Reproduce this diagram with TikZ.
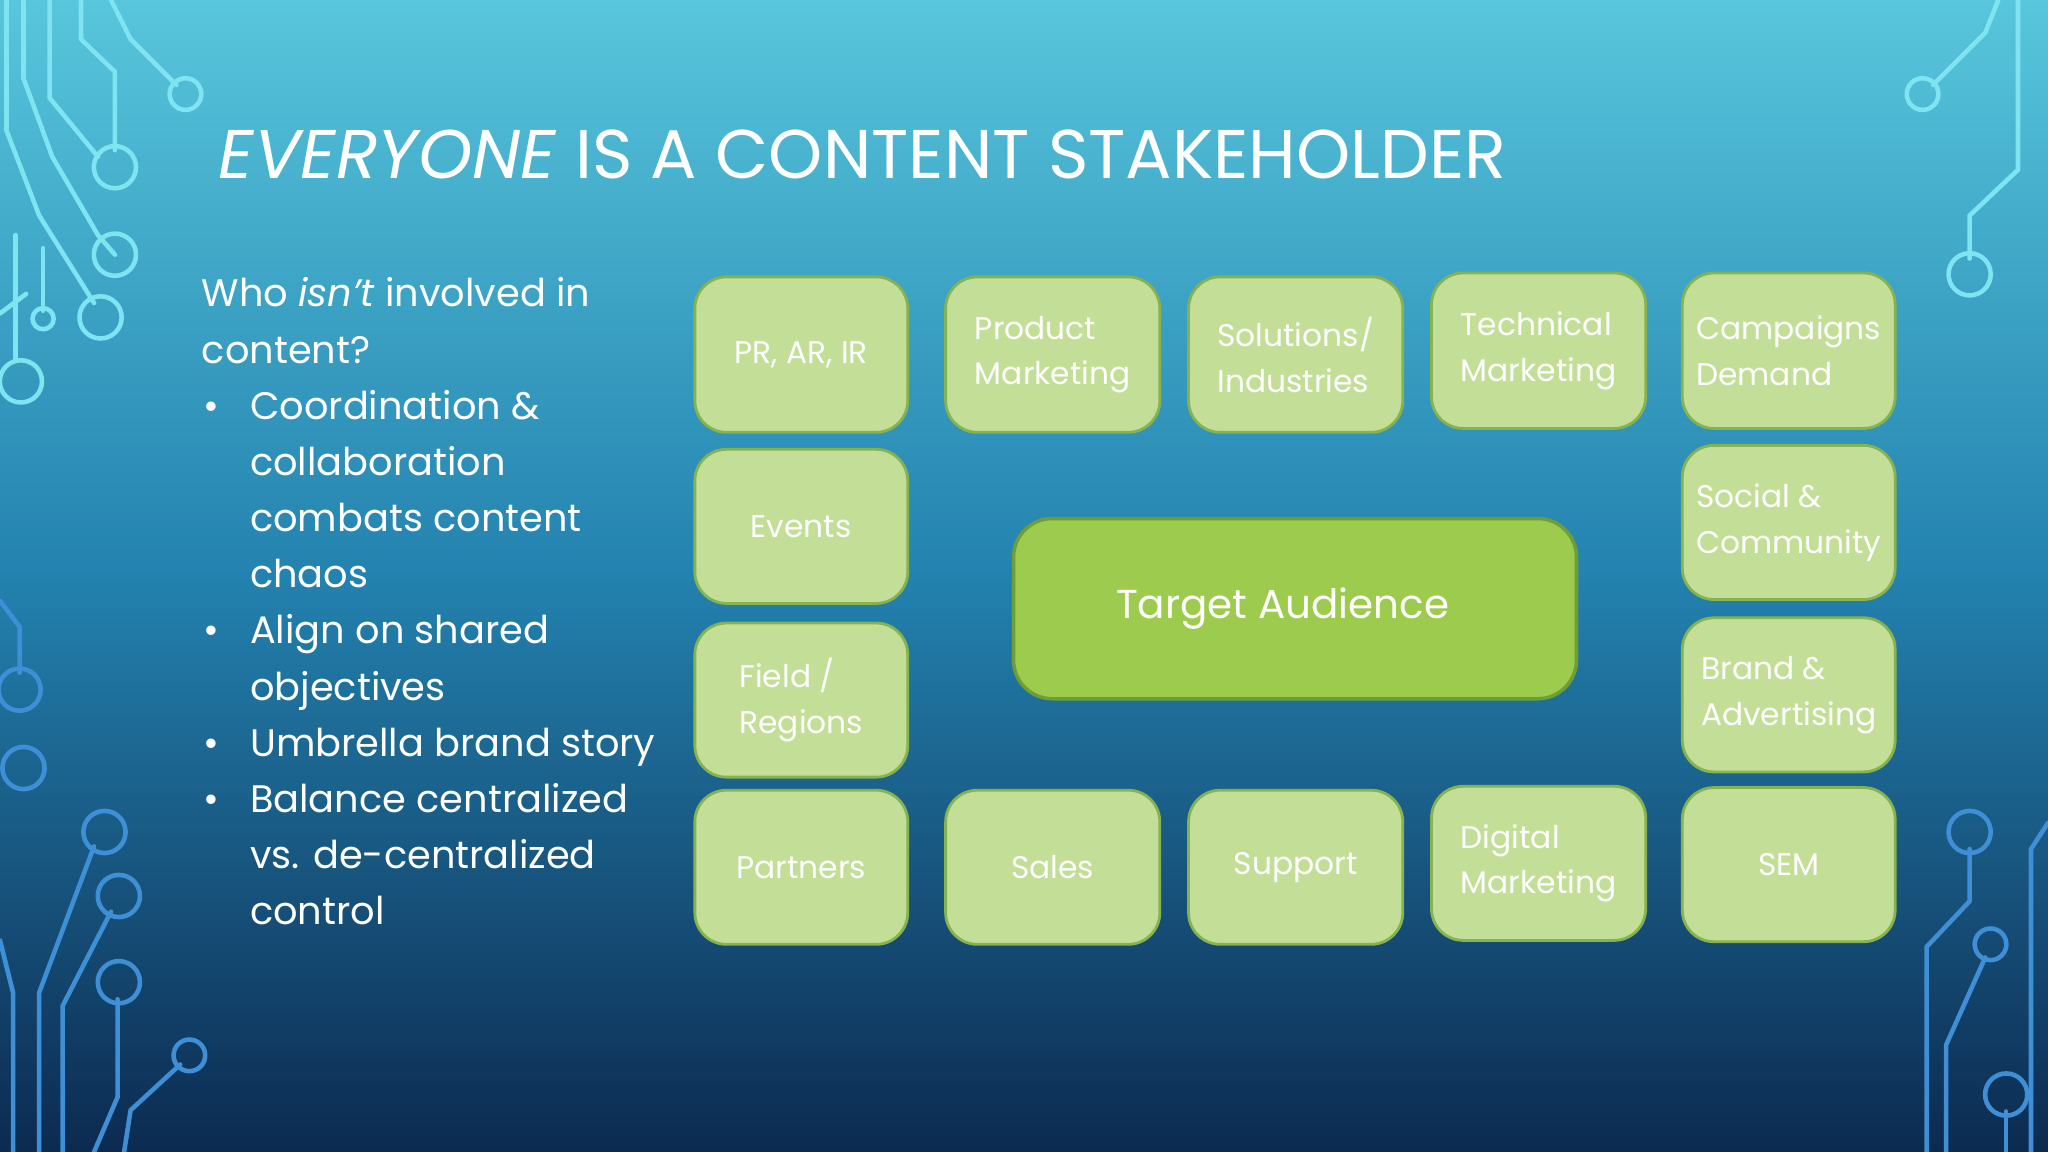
\documentclass[tikz,border=0pt]{standalone}
\usepackage{fontspec}
\setmainfont{Poppins}
\begin{document}
\begin{tikzpicture}[x=0.013061cm,y=-0.013061cm,
  sbox/.style={draw=boxborder,line width=0.8pt,fill=boxfill,rounded corners=9pt},
  tbox/.style={draw=tborder,line width=1pt,fill=tfill,rounded corners=11pt},
  circ/.style={line width=1.3pt,line cap=round},
  dot/.style={circle,draw,line width=1.3pt,inner sep=0pt,minimum size=15pt},
  ltxt/.style={anchor=base west,text=white,font=\fontsize{10.9}{16}\selectfont,inner sep=0pt}]
\definecolor{boxfill}{HTML}{C3DF97}
\definecolor{boxborder}{HTML}{86B34F}
\definecolor{tfill}{HTML}{9CCB4D}
\definecolor{tborder}{HTML}{6F9E35}
\definecolor{ctop}{HTML}{7FE3F0}
\definecolor{cbot}{HTML}{3E8FD6}
\shade[top color={rgb,255:red,88;green,198;blue,220},bottom color={rgb,255:red,12;green,42;blue,80},middle color={rgb,255:red,35;green,130;blue,175}] (0,0) rectangle (1568,882);
\useasboundingbox (0,0) rectangle (1568,882);
% circuits top-left
\begin{scope}[ctop,circ]
\draw (18,0)--(18,60)--(40,120)--(75,180)--(88,195); \node[dot,draw=ctop,minimum size=12pt] (c1) at (88,195) {};
\draw (38,0)--(38,75)--(75,120); \node[dot,draw=ctop,minimum size=12pt] at (88,128) {};
\draw (62,0)--(62,30)--(88,55)--(88,115);
\draw (85,0)--(100,30)--(135,65); \node[dot,draw=ctop,minimum size=9pt] at (142,72) {};
\draw (5,0)--(5,100)--(30,165)--(72,232); \node[dot,draw=ctop,minimum size=12pt] at (77,243) {};
\draw (12,180)--(12,275); \node[dot,draw=ctop,minimum size=12pt] at (16,292) {};
\draw (33,190)--(33,238); \node[dot,draw=ctop,minimum size=6pt] at (33,244) {};
\draw (0,240)--(20,225);
\end{scope}
% top-right
\begin{scope}[ctop,circ]
\draw (1530,0)--(1520,25)--(1480,65); \node[dot,draw=ctop,minimum size=9pt] at (1472,72) {};
\draw (1545,0)--(1545,130)--(1508,165)--(1508,198); \node[dot,draw=ctop,minimum size=12pt] at (1508,210) {};
\end{scope}
% bottom-left
\begin{scope}[cbot,circ]
\draw (0,460)--(15,480)--(15,515); \node[dot,draw=cbot,minimum size=12pt] at (15,528) {};
\node[dot,draw=cbot,minimum size=12pt] at (18,588) {};
\draw (0,720)--(10,760)--(10,882);
\draw (30,882)--(30,760)--(72,648); \node[dot,draw=cbot,minimum size=12pt] at (80,637) {};
\draw (48,882)--(48,770)--(85,698); \node[dot,draw=cbot,minimum size=12pt] at (91,686) {};
\draw (72,882)--(90,840)--(90,765); \node[dot,draw=cbot,minimum size=12pt] at (91,752) {};
\draw (95,882)--(100,850)--(138,815); \node[dot,draw=cbot,minimum size=9pt] at (145,808) {};
\end{scope}
% bottom-right
\begin{scope}[cbot,circ]
\node[dot,draw=cbot,minimum size=12pt] at (1508,637) {};
\draw (1508,650)--(1508,690)--(1475,725)--(1475,882);
\node[dot,draw=cbot,minimum size=9pt] at (1524,723) {};
\draw (1520,733)--(1490,800)--(1490,882);
\draw (1568,630)--(1555,650)--(1555,882);
\node[dot,draw=cbot,minimum size=12pt] at (1536,838) {};
\draw (1536,851)--(1536,882);
\end{scope}
% title
\node[anchor=base west,text=white,font=\fontsize{19.6}{24}\selectfont,inner sep=0pt] (title) at (167,137) {\textit{EVERYONE} IS A CONTENT STAKEHOLDER};
% left text
\node[ltxt] (l1) at (154,235) {Who \textit{isn't} involved in};
\node[ltxt] (l2) at (154,278) {content?};
\foreach \y/\t [count=\i] in {321/{Coordination \&},364/collaboration,407/combats content,450/chaos,493/Align on shared,536/objectives,579/Umbrella brand story,622/Balance centralized,665/vs. de-centralized,708/control}
  \node[ltxt] (b\i) at (191,\y) {\t};
\foreach \y [count=\i] in {321,493,579,622}
  \node[ltxt] (d\i) at (155,\y) {•};
% boxes
\newcommand{\sbx}[6]{\draw[sbox] (#2,#3) rectangle (#4,#5); \node[text=white,font=\fontsize{8.9}{13}\selectfont,align=left,inner sep=0pt] (#1) at ({(#2+#4)/2},{(#3+#5)/2}) {#6};}
\sbx{pr}{532}{212}{695}{331}{PR, AR, IR}
\sbx{pm}{724}{212}{888}{331}{Product\\Marketing}
\sbx{si}{910}{212}{1074}{331}{Solutions/\\Industries}
\sbx{tm}{1096}{209}{1260}{328}{Technical\\Marketing}
\sbx{cd}{1288}{209}{1451}{328}{Campaigns\\Demand}
\sbx{ev}{532}{344}{695}{462}{Events}
\sbx{sc}{1288}{341}{1451}{459}{Social \&\\Community}
\sbx{fr}{532}{477}{695}{595}{Field /\\Regions}
\sbx{ba}{1288}{473}{1451}{591}{Brand \&\\Advertising}
\sbx{pa}{532}{605}{695}{723}{Partners}
\sbx{sa}{724}{605}{888}{723}{Sales}
\sbx{su}{910}{605}{1074}{723}{Support}
\sbx{dm}{1096}{602}{1260}{720}{Digital\\Marketing}
\sbx{se}{1288}{603}{1451}{721}{SEM}
\draw[tbox] (776,397) rectangle (1207,535);
\node[text=white,font=\fontsize{11.5}{14}\selectfont,inner sep=0pt] (ta) at (982,466) {Target Audience};
\end{tikzpicture}
\end{document}
